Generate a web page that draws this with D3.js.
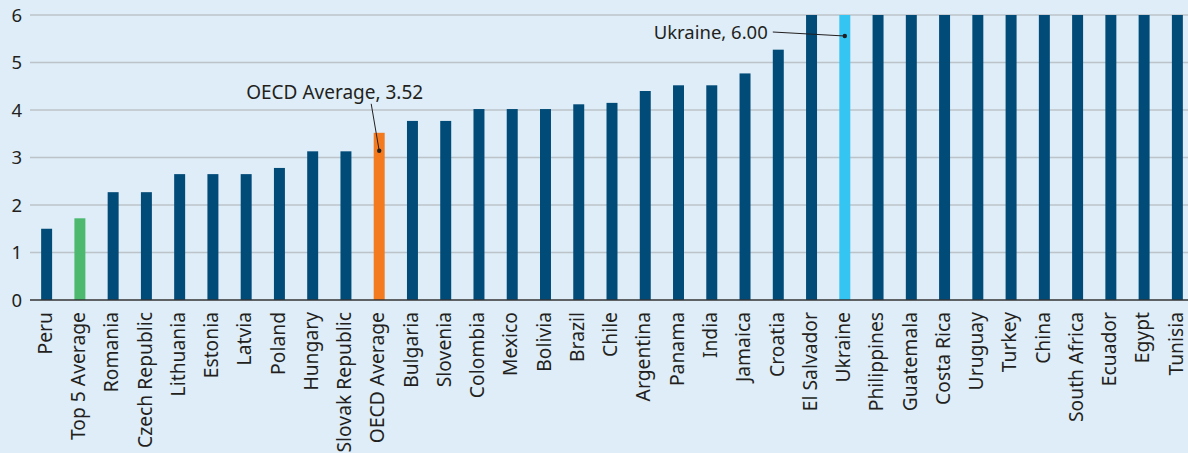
<!DOCTYPE html>
<html><head><meta charset="utf-8">
<script src="https://cdn.jsdelivr.net/npm/d3@7"></script>
<style>
html,body{margin:0;padding:0;background:#deedf7;}
svg{display:block;}
text{font-family:"Noto Sans","Open Sans",sans-serif;fill:#231f20;}
</style></head>
<body>
<svg id="chart" width="1188" height="453"></svg>
<script>
const categories = ["Peru","Top 5 Average","Romania","Czech Republic","Lithuania","Estonia","Latvia","Poland","Hungary","Slovak Republic","OECD Average","Bulgaria","Slovenia","Colombia","Mexico","Bolivia","Brazil","Chile","Argentina","Panama","India","Jamaica","Croatia","El Salvador","Ukraine","Philippines","Guatemala","Costa Rica","Uruguay","Turkey","China","South Africa","Ecuador","Egypt","Tunisia"];
const values = [1.50,1.72,2.27,2.27,2.65,2.65,2.65,2.78,3.13,3.13,3.52,3.77,3.77,4.02,4.02,4.02,4.12,4.15,4.40,4.52,4.52,4.77,5.27,6,6,6,6,6,6,6,6,6,6,6,6];
const yTicks = [0,1,2,3,4,5,6];
const highlight = {"Top 5 Average":"#4cb96e","OECD Average":"#f47a20","Ukraine":"#35c5f2"};
const annotations = [
  {cat:"OECD Average", label:"OECD Average, 3.52"},
  {cat:"Ukraine", label:"Ukraine, 6.00"}
];

const svg = d3.select("#chart");
const W = 1188, H = 453;
const x = d3.scaleBand().domain(categories).range([30, 1194]).paddingInner(0.67).paddingOuter(0.335);
const y = d3.scaleLinear().domain([0,6]).range([300, 15]);

// gridlines
svg.append("g").selectAll("line").data(yTicks.filter(d=>d>0)).join("line")
  .attr("x1",30).attr("x2",W).attr("y1",d=>y(d)).attr("y2",d=>y(d))
  .attr("stroke","#bcc3c9").attr("stroke-width",1.5);

// y axis labels
const yAxis = d3.axisLeft(y).tickValues(yTicks).tickSize(0).tickPadding(0).tickFormat(d3.format("d"));
const ya = svg.append("g").attr("transform","translate(22,0)").call(yAxis);
ya.select(".domain").remove();
ya.selectAll("text").attr("font-size",18.5).attr("fill","#231f20").attr("dy","0.35em")
  .style("font-family",'"Noto Sans","Open Sans",sans-serif');

// bars
svg.append("g").selectAll("rect").data(categories).join("rect")
  .attr("x",d=>x(d)).attr("width",x.bandwidth())
  .attr("y",(d,i)=>y(values[i])).attr("height",(d,i)=>y(0)-y(values[i]))
  .attr("fill",d=>highlight[d]||"#004b78");

// baseline
svg.append("line").attr("x1",30).attr("x2",W).attr("y1",y(0)).attr("y2",y(0))
  .attr("stroke","#333").attr("stroke-width",1.5);

// x labels
const xAxis = d3.axisBottom(x).tickSize(0).tickPadding(0);
const xa = svg.append("g").attr("transform",`translate(0,${y(0)})`).call(xAxis);
xa.select(".domain").remove();
xa.selectAll("text")
  .attr("transform","rotate(-90)")
  .attr("text-anchor","end")
  .attr("x",-12).attr("y",0).attr("dy","0.27em")
  .attr("font-size",19.3).attr("fill","#231f20")
  .style("font-family",'"Noto Sans","Open Sans",sans-serif');

// annotations
const ann = svg.append("g");
// OECD
{
  const cx = x("OECD Average") + x.bandwidth()/2;
  const vi = values[categories.indexOf("OECD Average")];
  const dotY = y(vi) + 18;
  ann.append("line").attr("x1",cx-8).attr("y1",y(vi)-29).attr("x2",cx).attr("y2",dotY).attr("stroke","#231f20").attr("stroke-width",1);
  ann.append("circle").attr("cx",cx).attr("cy",dotY).attr("r",2.2).attr("fill","#231f20");
  ann.append("text").attr("x",cx+44).attr("y",y(vi)-34).attr("text-anchor","end").attr("font-size",19).text(annotations[0].label);
}
// Ukraine
{
  const cx = x("Ukraine") + x.bandwidth()/2;
  const vi = values[categories.indexOf("Ukraine")];
  const dotY = y(vi) + 21;
  ann.append("line").attr("x1",cx-72).attr("y1",dotY-4).attr("x2",cx).attr("y2",dotY).attr("stroke","#231f20").attr("stroke-width",1);
  ann.append("circle").attr("cx",cx).attr("cy",dotY).attr("r",2.2).attr("fill","#231f20");
  ann.append("text").attr("x",cx-77).attr("y",dotY+3).attr("text-anchor","end").attr("font-size",18.5).text(annotations[1].label);
}
</script>
</body></html>
